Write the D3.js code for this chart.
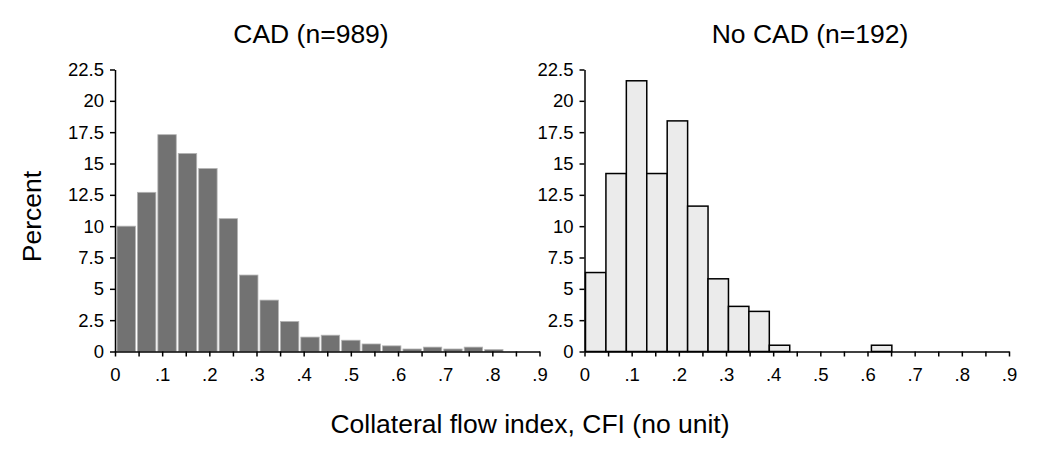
<!DOCTYPE html>
<html>
<head>
<meta charset="utf-8">
<script src="https://cdn.jsdelivr.net/npm/d3@7"></script>
<style>
  html, body { margin: 0; padding: 0; background: #fff; }
  svg { display: block; font-family: "Liberation Sans", Arial, Helvetica, sans-serif; }
  .axis path, .axis line { stroke: #000; stroke-width: 1.5px; }
  .axis text { font-size: 18.5px; fill: #000; font-family: "Liberation Sans", Arial, sans-serif; }
</style>
</head>
<body>
<svg id="chart" width="1040" height="460"></svg>
<script>
// ---- data ----
const panelTitles = ["CAD (n=989)", "No CAD (n=192)"];
const binWidth = 0.0433;
const cadPercent = [10.0, 12.7, 17.3, 15.8, 14.6, 10.6, 6.1, 4.1, 2.4, 1.15, 1.3, 0.9, 0.6, 0.45, 0.2, 0.35, 0.2, 0.35, 0.15];
const noCadPercent = [6.3, 14.2, 21.6, 14.2, 18.4, 11.6, 5.8, 3.6, 3.2, 0.5, 0, 0, 0, 0, 0.5];
const yTicks = [0, 2.5, 5, 7.5, 10, 12.5, 15, 17.5, 20, 22.5];
const yTickLabels = ["0", "2.5", "5", "7.5", "10", "12.5", "15", "17.5", "20", "22.5"];
const xMajorTicks = [0, 0.1, 0.2, 0.3, 0.4, 0.5, 0.6, 0.7, 0.8, 0.9];
const xTickLabels = ["0", ".1", ".2", ".3", ".4", ".5", ".6", ".7", ".8", ".9"];
const xAllTicks = [0, 0.05, 0.1, 0.15, 0.2, 0.25, 0.3, 0.35, 0.4, 0.45, 0.5, 0.55, 0.6, 0.65, 0.7, 0.75, 0.8, 0.85, 0.9];
const yLabel = "Percent";
const xLabel = "Collateral flow index, CFI (no unit)";

const svg = d3.select("#chart");

const y = d3.scaleLinear().domain([0, 22.5]).range([351.5, 69.5]);

const panels = [
  { title: panelTitles[0], data: cadPercent, range: [115, 539.5], titleX: 311,
    fill: "#727272", stroke: "#b4b4b4", strokeW: 0.8, inset: 1.0 },
  { title: panelTitles[1], data: noCadPercent, range: [584.5, 1009], titleX: 810,
    fill: "#ebebeb", stroke: "#000", strokeW: 1.5, inset: 0 }
];

panels.forEach(p => {
  const x = d3.scaleLinear().domain([0, 0.9]).range(p.range);
  const g = svg.append("g");

  const bins = p.data.map((v, i) => ({ x0: i * binWidth, x1: (i + 1) * binWidth, v }))
                     .filter(d => d.v > 0);
  g.selectAll("rect.bar").data(bins).join("rect")
    .attr("class", "bar")
    .attr("x", d => x(d.x0) + p.inset + 1)
    .attr("width", d => x(d.x1) - x(d.x0) - 2 * p.inset)
    .attr("y", d => y(d.v))
    .attr("height", d => y(0) - y(d.v))
    .attr("fill", p.fill)
    .attr("stroke", p.stroke)
    .attr("stroke-width", p.strokeW);

  const yAxis = d3.axisLeft(y)
    .tickValues(yTicks)
    .tickFormat((d, i) => yTickLabels[i])
    .tickSizeInner(5).tickSizeOuter(0).tickPadding(6);
  g.append("g").attr("class", "axis")
    .attr("transform", `translate(${p.range[0]},0)`)
    .call(yAxis);

  const xAxis = d3.axisBottom(x)
    .tickValues(xAllTicks)
    .tickFormat(d => {
      const idx = xMajorTicks.findIndex(t => Math.abs(t - d) < 1e-9);
      return idx >= 0 ? xTickLabels[idx] : "";
    })
    .tickSizeInner(5).tickSizeOuter(0).tickPadding(11);
  g.append("g").attr("class", "axis")
    .attr("transform", `translate(0,${y(0)})`)
    .call(xAxis);

  svg.append("text")
    .attr("x", p.titleX).attr("y", 43)
    .attr("text-anchor", "middle")
    .attr("font-size", 26.5)
    .text(p.title);
});

svg.append("text")
  .attr("transform", "translate(41,216.5) rotate(-90)")
  .attr("text-anchor", "middle")
  .attr("font-size", 26.5)
  .text(yLabel);

svg.append("text")
  .attr("x", 530).attr("y", 433)
  .attr("text-anchor", "middle")
  .attr("font-size", 26.5)
  .text(xLabel);
</script>
</body>
</html>
